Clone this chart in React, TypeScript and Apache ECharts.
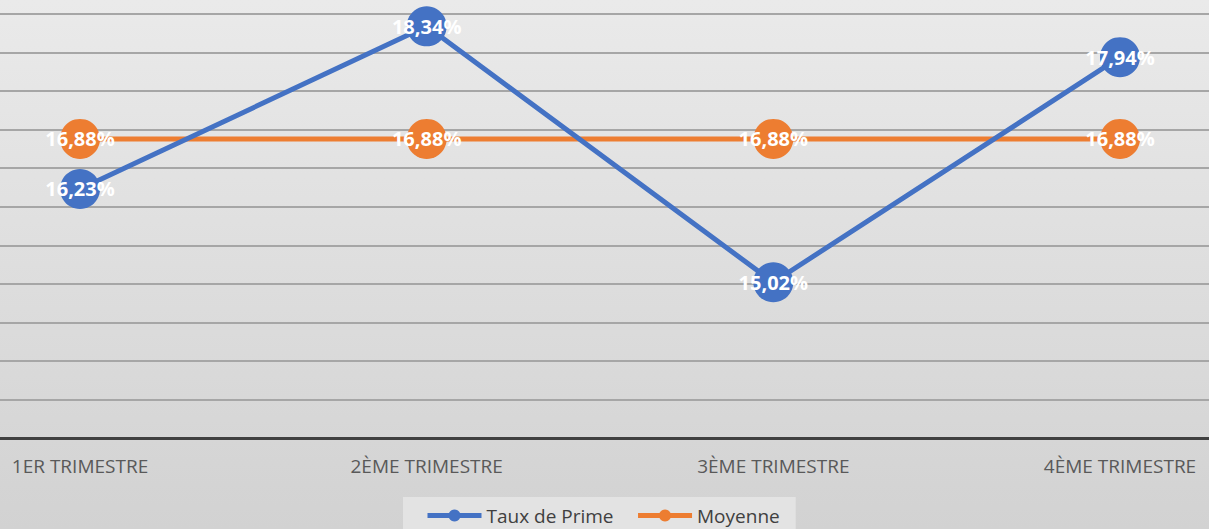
import React, { useEffect, useRef } from "react";
import * as echarts from "echarts";

const categories = ["1ER TRIMESTRE", "2ÈME TRIMESTRE", "3ÈME TRIMESTRE", "4ÈME TRIMESTRE"];
const tauxDePrime = [16.23, 18.34, 15.02, 17.94];
const moyenne = [16.88, 16.88, 16.88, 16.88];
const yMin = 13;
const yMax = 18.5;
const yStep = 0.5;

const fmt = (v: number) => v.toFixed(2).replace(".", ",") + "%";

export default function App() {
  const ref = useRef<HTMLDivElement>(null);
  useEffect(() => {
    if (!ref.current) return;
    const chart = echarts.init(ref.current, undefined, { renderer: "svg" });
    const labelStyle = {
      show: true,
      position: "inside" as const,
      color: "#ffffff",
      fontFamily: "Open Sans",
      fontWeight: "bold" as const,
      fontSize: 20,
      formatter: (p: any) => fmt(p.value),
    };
    chart.setOption({
      animation: false,
      backgroundColor: {
        type: "linear",
        x: 0,
        y: 0,
        x2: 0,
        y2: 1,
        colorStops: [
          { offset: 0, color: "#eaeaea" },
          { offset: 1, color: "#d2d2d2" },
        ],
      },
      grid: [
        { left: 80, right: 89, top: 14, bottom: 91, containLabel: false },
        { left: 0, right: 0, top: 14, bottom: 91, containLabel: false },
      ],
      xAxis: [
        {
          type: "category",
          gridIndex: 0,
          data: categories,
          boundaryGap: false,
          axisLine: { show: false },
          axisTick: { show: false },
          axisLabel: {
            color: "#595959",
            fontFamily: "Open Sans",
            fontSize: 19,
            margin: 18,
          },
          z: 5,
        },
        {
          type: "category",
          gridIndex: 1,
          data: categories,
          axisLine: { show: true, lineStyle: { color: "#404040", width: 3 } },
          axisTick: { show: false },
          axisLabel: { show: false },
        },
      ],
      yAxis: [
        {
          type: "value",
          gridIndex: 0,
          min: yMin,
          max: yMax,
          interval: yStep,
          axisLabel: { show: false },
          axisLine: { show: false },
          axisTick: { show: false },
          splitLine: { show: false },
        },
        {
          type: "value",
          gridIndex: 1,
          min: yMin,
          max: yMax,
          interval: yStep,
          axisLabel: { show: false },
          axisLine: { show: false },
          axisTick: { show: false },
          splitLine: { show: true, lineStyle: { color: "#a6a6a6", width: 2 } },
        },
      ],
      legend: {
        bottom: -12,
        left: 403,
        backgroundColor: "#e3e3e3",
        padding: [9, 16, 16, 22],
        itemGap: 22,
        itemWidth: 54,
        itemHeight: 15,
        lineStyle: { width: 5 },
        textStyle: { color: "#404040", fontFamily: "Open Sans", fontSize: 19 },
        data: ["Taux de Prime", "Moyenne"],
      },
      series: [
        {
          name: "Moyenne",
          type: "line",
          xAxisIndex: 0,
          yAxisIndex: 0,
          data: moyenne,
          color: "#ED7D31",
          lineStyle: { color: "#ED7D31", width: 5 },
          symbol: "circle",
          symbolSize: 40,
          itemStyle: { color: "#ED7D31" },
          label: labelStyle,
          z: 3,
        },
        {
          name: "Taux de Prime",
          type: "line",
          xAxisIndex: 0,
          yAxisIndex: 0,
          data: tauxDePrime,
          color: "#4472C4",
          lineStyle: { color: "#4472C4", width: 5 },
          symbol: "circle",
          symbolSize: 40,
          itemStyle: { color: "#4472C4" },
          label: labelStyle,
          z: 4,
        },
      ],
    });
    return () => chart.dispose();
  }, []);
  return (
    <div
      ref={ref}
      style={{ position: "fixed", left: 0, top: 0, width: 1209, height: 529 }}
    />
  );
}
